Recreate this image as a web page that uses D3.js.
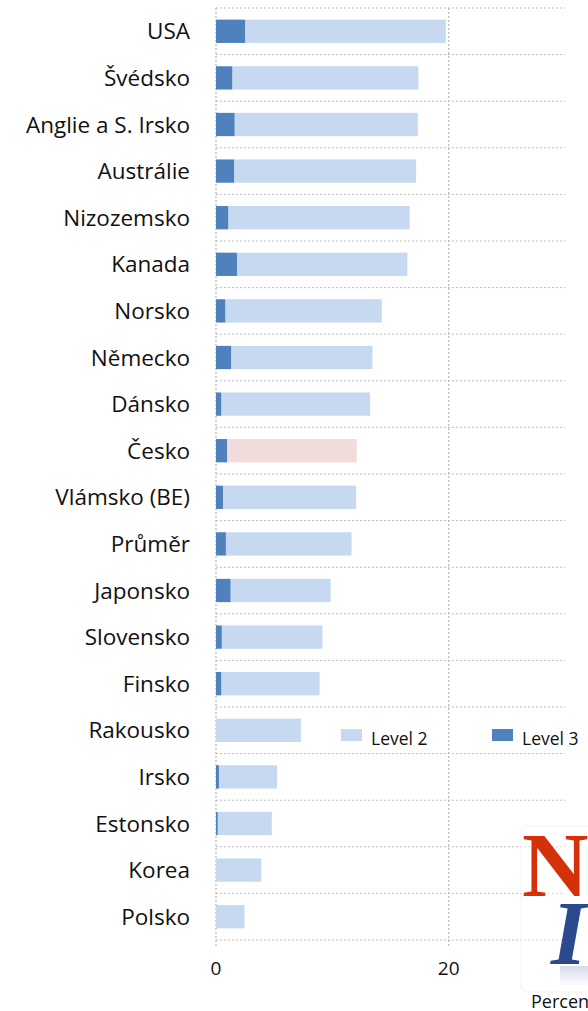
<!DOCTYPE html>
<html><head><meta charset="utf-8">
<script src="https://cdn.jsdelivr.net/npm/d3@7"></script>
<style>html,body{margin:0;padding:0;background:#fff;overflow:hidden}</style>
</head><body>
<svg id="c" width="588" height="1011"></svg>
<script>
const categories = ["USA","Švédsko","Anglie a S. Irsko","Austrálie","Nizozemsko","Kanada","Norsko","Německo","Dánsko","Česko","Vlámsko (BE)","Průměr","Japonsko","Slovensko","Finsko","Rakousko","Irsko","Estonsko","Korea","Polsko"];
const level3 = [2.5,1.4,1.6,1.55,1.05,1.8,0.8,1.3,0.45,0.95,0.6,0.85,1.25,0.5,0.45,0,0.25,0.15,0,0];
const total  = [19.75,17.4,17.35,17.2,16.65,16.45,14.25,13.45,13.25,12.1,12.05,11.65,9.85,9.15,8.9,7.3,5.25,4.8,3.9,2.45];
const level2 = total.map((t,i)=>+(t-level3[i]).toFixed(2));
const xTicks = [0,20];
const seriesNames = ["Level 2","Level 3"];
const highlight = "Česko";

const C3 = "#4f81bd", C2 = "#c6d9f1", CH = "#f2dcdb", GRID = "#bdbdbd";
const svg = d3.select("#c");
const font = "'Open Sans', sans-serif";

const x = d3.scaleLinear().domain([0,30]).range([216,565]);
const y = d3.scaleBand().domain(categories).range([8,940]).paddingInner(0.5).paddingOuter(0.25);
const step = y.step();

// horizontal dashed grid lines (category boundaries)
const bounds = d3.range(categories.length+1).map(i=>8+i*step);
svg.append("g").selectAll("line").data(bounds).join("line")
  .attr("x1",x(0)).attr("x2",x.range()[1]).attr("y1",d=>d).attr("y2",d=>d)
  .attr("stroke",GRID).attr("stroke-width",1).attr("stroke-dasharray","2,2");

// vertical grid lines
svg.append("g").selectAll("line").data(xTicks).join("line")
  .attr("x1",d=>x(d)).attr("x2",d=>x(d)).attr("y1",8).attr("y2",946)
  .attr("stroke",GRID).attr("stroke-width",1.3).attr("stroke-dasharray","2,2");

// bars
const rows = svg.append("g").selectAll("g").data(categories).join("g");
rows.append("rect")
  .attr("x",(d,i)=>x(level3[i])).attr("y",d=>y(d))
  .attr("width",(d,i)=>x(level3[i]+level2[i])-x(level3[i])).attr("height",y.bandwidth())
  .attr("fill",d=>d===highlight?CH:C2);
rows.append("rect")
  .attr("x",x(0)).attr("y",d=>y(d))
  .attr("width",(d,i)=>x(level3[i])-x(0)).attr("height",y.bandwidth())
  .attr("fill",C3);

// category labels
svg.append("g").selectAll("text").data(categories).join("text")
  .attr("x",190).attr("y",d=>y(d)+y.bandwidth()/2).attr("dy","0.36em")
  .attr("text-anchor","end").attr("font-family",font).attr("font-size",22.5).attr("fill","#111")
  .text(d=>d);

// x tick labels
svg.append("g").selectAll("text").data(xTicks).join("text")
  .attr("x",d=>x(d)).attr("y",975).attr("text-anchor","middle")
  .attr("font-family",font).attr("font-size",19).attr("fill","#111").text(d=>d);

// legend
const lg = svg.append("g");
const lx = [341,492];
seriesNames.forEach((n,i)=>{
  lg.append("rect").attr("x",lx[i]).attr("y",729).attr("width",21).attr("height",12)
    .attr("fill",i===0?C2:C3);
  lg.append("text").attr("x",lx[i]+30).attr("y",745).attr("font-family",font)
    .attr("font-size",17.5).attr("fill","#111").text(n);
});

// logo
const logo = svg.append("g");
const grad = svg.append("defs").append("linearGradient").attr("id","refl").attr("x1",0).attr("y1",0).attr("x2",0).attr("y2",1);
grad.append("stop").attr("offset",0).attr("stop-color","#2b4a8e").attr("stop-opacity",0.2);
grad.append("stop").attr("offset",1).attr("stop-color","#2b4a8e").attr("stop-opacity",0);
logo.append("rect").attr("x",521).attr("y",826).attr("width",80).attr("height",166).attr("rx",6)
  .attr("fill","#fff").attr("fill-opacity",0.4).attr("stroke","#f3f3f3");
logo.append("text").attr("x",522).attr("y",896).attr("font-family","'Liberation Serif',serif")
  .attr("font-weight","bold").attr("font-size",92).attr("fill","#d4300a").text("N");
logo.append("text").attr("x",551).attr("y",964).attr("font-family","'Liberation Serif',serif")
  .attr("font-weight","bold").attr("font-style","italic").attr("font-size",92).attr("fill","#2b4a8e").text("I");
logo.append("rect").attr("x",560).attr("y",966).attr("width",36).attr("height",20).attr("fill","url(#refl)");

// axis title (cut off at the right edge)
svg.append("text").attr("x",531).attr("y",1008).attr("font-family",font).attr("font-size",18)
  .attr("fill","#111").text("Percentage");
</script>
</body></html>
